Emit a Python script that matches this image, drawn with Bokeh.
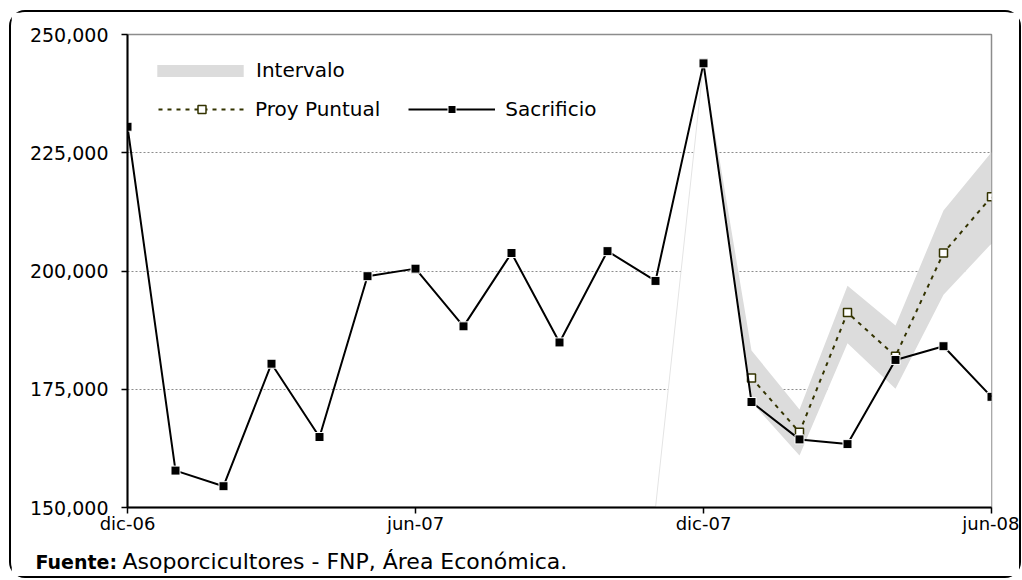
from bokeh.plotting import figure
from bokeh.models import (Range1d, FixedTicker, NumeralTickFormatter, Legend,
                          LegendItem, Label)
from bokeh.embed import file_html
from bokeh.resources import INLINE

# ---------------- data ----------------
months = ["dic-06", "ene-07", "feb-07", "mar-07", "abr-07", "may-07", "jun-07",
          "jul-07", "ago-07", "sep-07", "oct-07", "nov-07", "dic-07", "ene-08",
          "feb-08", "mar-08", "abr-08", "may-08", "jun-08"]
sacrificio = [230500, 157800, 154500, 180400, 164900, 198900, 200500, 188300,
              203800, 184900, 204200, 197900, 243900, 172300, 164400, 163400,
              181200, 184100, 173400]

proy_months = ["ene-08", "feb-08", "mar-08", "abr-08", "may-08", "jun-08"]
proy_puntual = [177400, 165900, 191200, 182000, 203800, 215700]

band_months = ["nov-07", "dic-07", "ene-08", "feb-08", "mar-08", "abr-08",
               "may-08", "jun-08"]
band_lower = [150000, 243900, 172300, 161000, 184700, 175100, 195000, 205800]
band_upper = [150000, 243900, 183200, 170700, 196900, 188500, 212800, 225100]

tick_labels = ["dic-06", "jun-07", "dic-07", "jun-08"]
y_ticks = [150000, 175000, 200000, 225000, 250000]

source_head = "Fuente:"
source_text = "Asoporcicultores - FNP, Área Económica."

FONT = "DejaVu Sans"
OLIVE = "#333300"

idx = {m: i for i, m in enumerate(months)}
x_all = [idx[m] for m in months]
x_proy = [idx[m] for m in proy_months]
x_band = [idx[m] for m in band_months]

# ---------------- figure ----------------
p = figure(frame_width=864, frame_height=473,
           x_range=Range1d(x_all[0], x_all[-1]),
           y_range=Range1d(y_ticks[0], y_ticks[-1]),
           output_backend="svg", toolbar_location=None,
           min_border_left=116, min_border_top=20,
           min_border_right=28, min_border_bottom=69)
p.styles = {"border": "2px solid black", "border-radius": "16px",
            "margin-left": "9px", "margin-top": "10px"}
p.background_fill_color = "white"
p.border_fill_color = "white"
p.outline_line_color = "#8c8c8c"
p.outline_line_width = 1.5

p.xgrid.visible = False
p.ygrid.grid_line_color = "#8c8c8c"
p.ygrid.grid_line_dash = "2 2"
p.ygrid.grid_line_width = 1

# y axis
p.yaxis.ticker = FixedTicker(ticks=y_ticks)
p.yaxis.formatter = NumeralTickFormatter(format="0,0")
p.yaxis.major_tick_out = 6
p.yaxis.major_tick_in = 0
p.yaxis.minor_tick_out = 0
p.yaxis.minor_tick_in = 0
p.yaxis.major_label_standoff = 13

# x axis
p.xaxis.ticker = FixedTicker(ticks=[idx[t] for t in tick_labels])
p.xaxis.major_label_overrides = {idx[t]: t for t in tick_labels}
p.xaxis.major_tick_out = 6
p.xaxis.major_tick_in = 0
p.xaxis.minor_tick_out = 0
p.xaxis.minor_tick_in = 0
p.xaxis.major_label_standoff = -1

for ax in (p.xaxis, p.yaxis):
    ax.axis_line_color = "black"
    ax.axis_line_width = 2
    ax.major_tick_line_color = "black"
    ax.major_tick_line_width = 1.5
    ax.major_label_text_font = FONT
    ax.major_label_text_color = "black"
p.xaxis.major_label_text_font_size = "18px"
p.yaxis.major_label_text_font_size = "19px"

# ---------------- glyphs ----------------
p.varea(x=x_band, y1=[y_ticks[0]] * len(x_band), y2=band_lower,
        fill_color="white")
band_r = p.varea(x=x_band, y1=band_lower, y2=band_upper, fill_color="#dcdcdc")
p.line(x=x_band[:2], y=band_upper[:2], line_color="#e4e4e4", line_width=1)

proy_line = p.line(x=x_proy, y=proy_puntual, line_color=OLIVE, line_width=2,
                   line_dash="4 5")
proy_pts = p.scatter(x=x_proy, y=proy_puntual, marker="square", size=8,
                     fill_color="white", line_color=OLIVE, line_width=1.5)

sac_line = p.line(x=x_all, y=sacrificio, line_color="black", line_width=2)
sac_pts = p.scatter(x=x_all, y=sacrificio, marker="square", size=9,
                    fill_color="black", line_color="white", line_width=1)

# ---------------- legends ----------------
def style_legend(lg):
    lg.padding = 0
    lg.margin = 0
    lg.border_line_alpha = 0
    lg.background_fill_alpha = 0
    lg.label_text_font = FONT
    lg.label_text_font_size = "20px"
    lg.label_text_color = "black"

leg1 = Legend(items=[LegendItem(label="Intervalo", renderers=[band_r])],
              location=(19, 425))
style_legend(leg1)
leg1.glyph_width = 108
leg1.glyph_height = 15
leg1.label_standoff = 2
p.add_layout(leg1)

leg2 = Legend(items=[LegendItem(label="Proy Puntual", renderers=[proy_line, proy_pts]),
                     LegendItem(label="Sacrificio", renderers=[sac_line, sac_pts])],
              location=(31, 386), orientation="horizontal")
style_legend(leg2)
leg2.glyph_width = 87
leg2.glyph_height = 20
leg2.label_standoff = 10
leg2.spacing = 28
p.add_layout(leg2)

# ---------------- footnote ----------------
# normal part lives in the panel below the x axis
p.add_layout(Label(x=-5, y=0, x_units="screen", y_units="screen",
                   text=source_text, text_font=FONT, text_font_size="22px",
                   text_baseline="middle", text_color="black"), "below")
# bold head lives in the (otherwise empty) top panel, drawn down at the foot
p.add_layout(Label(x=-92, y=-527, x_units="screen", y_units="screen",
                   text=source_head, text_font=FONT, text_font_style="bold",
                   text_font_size="19px", text_baseline="middle",
                   text_color="black"), "above")

open("out.html", "w").write(file_html(p, INLINE))
